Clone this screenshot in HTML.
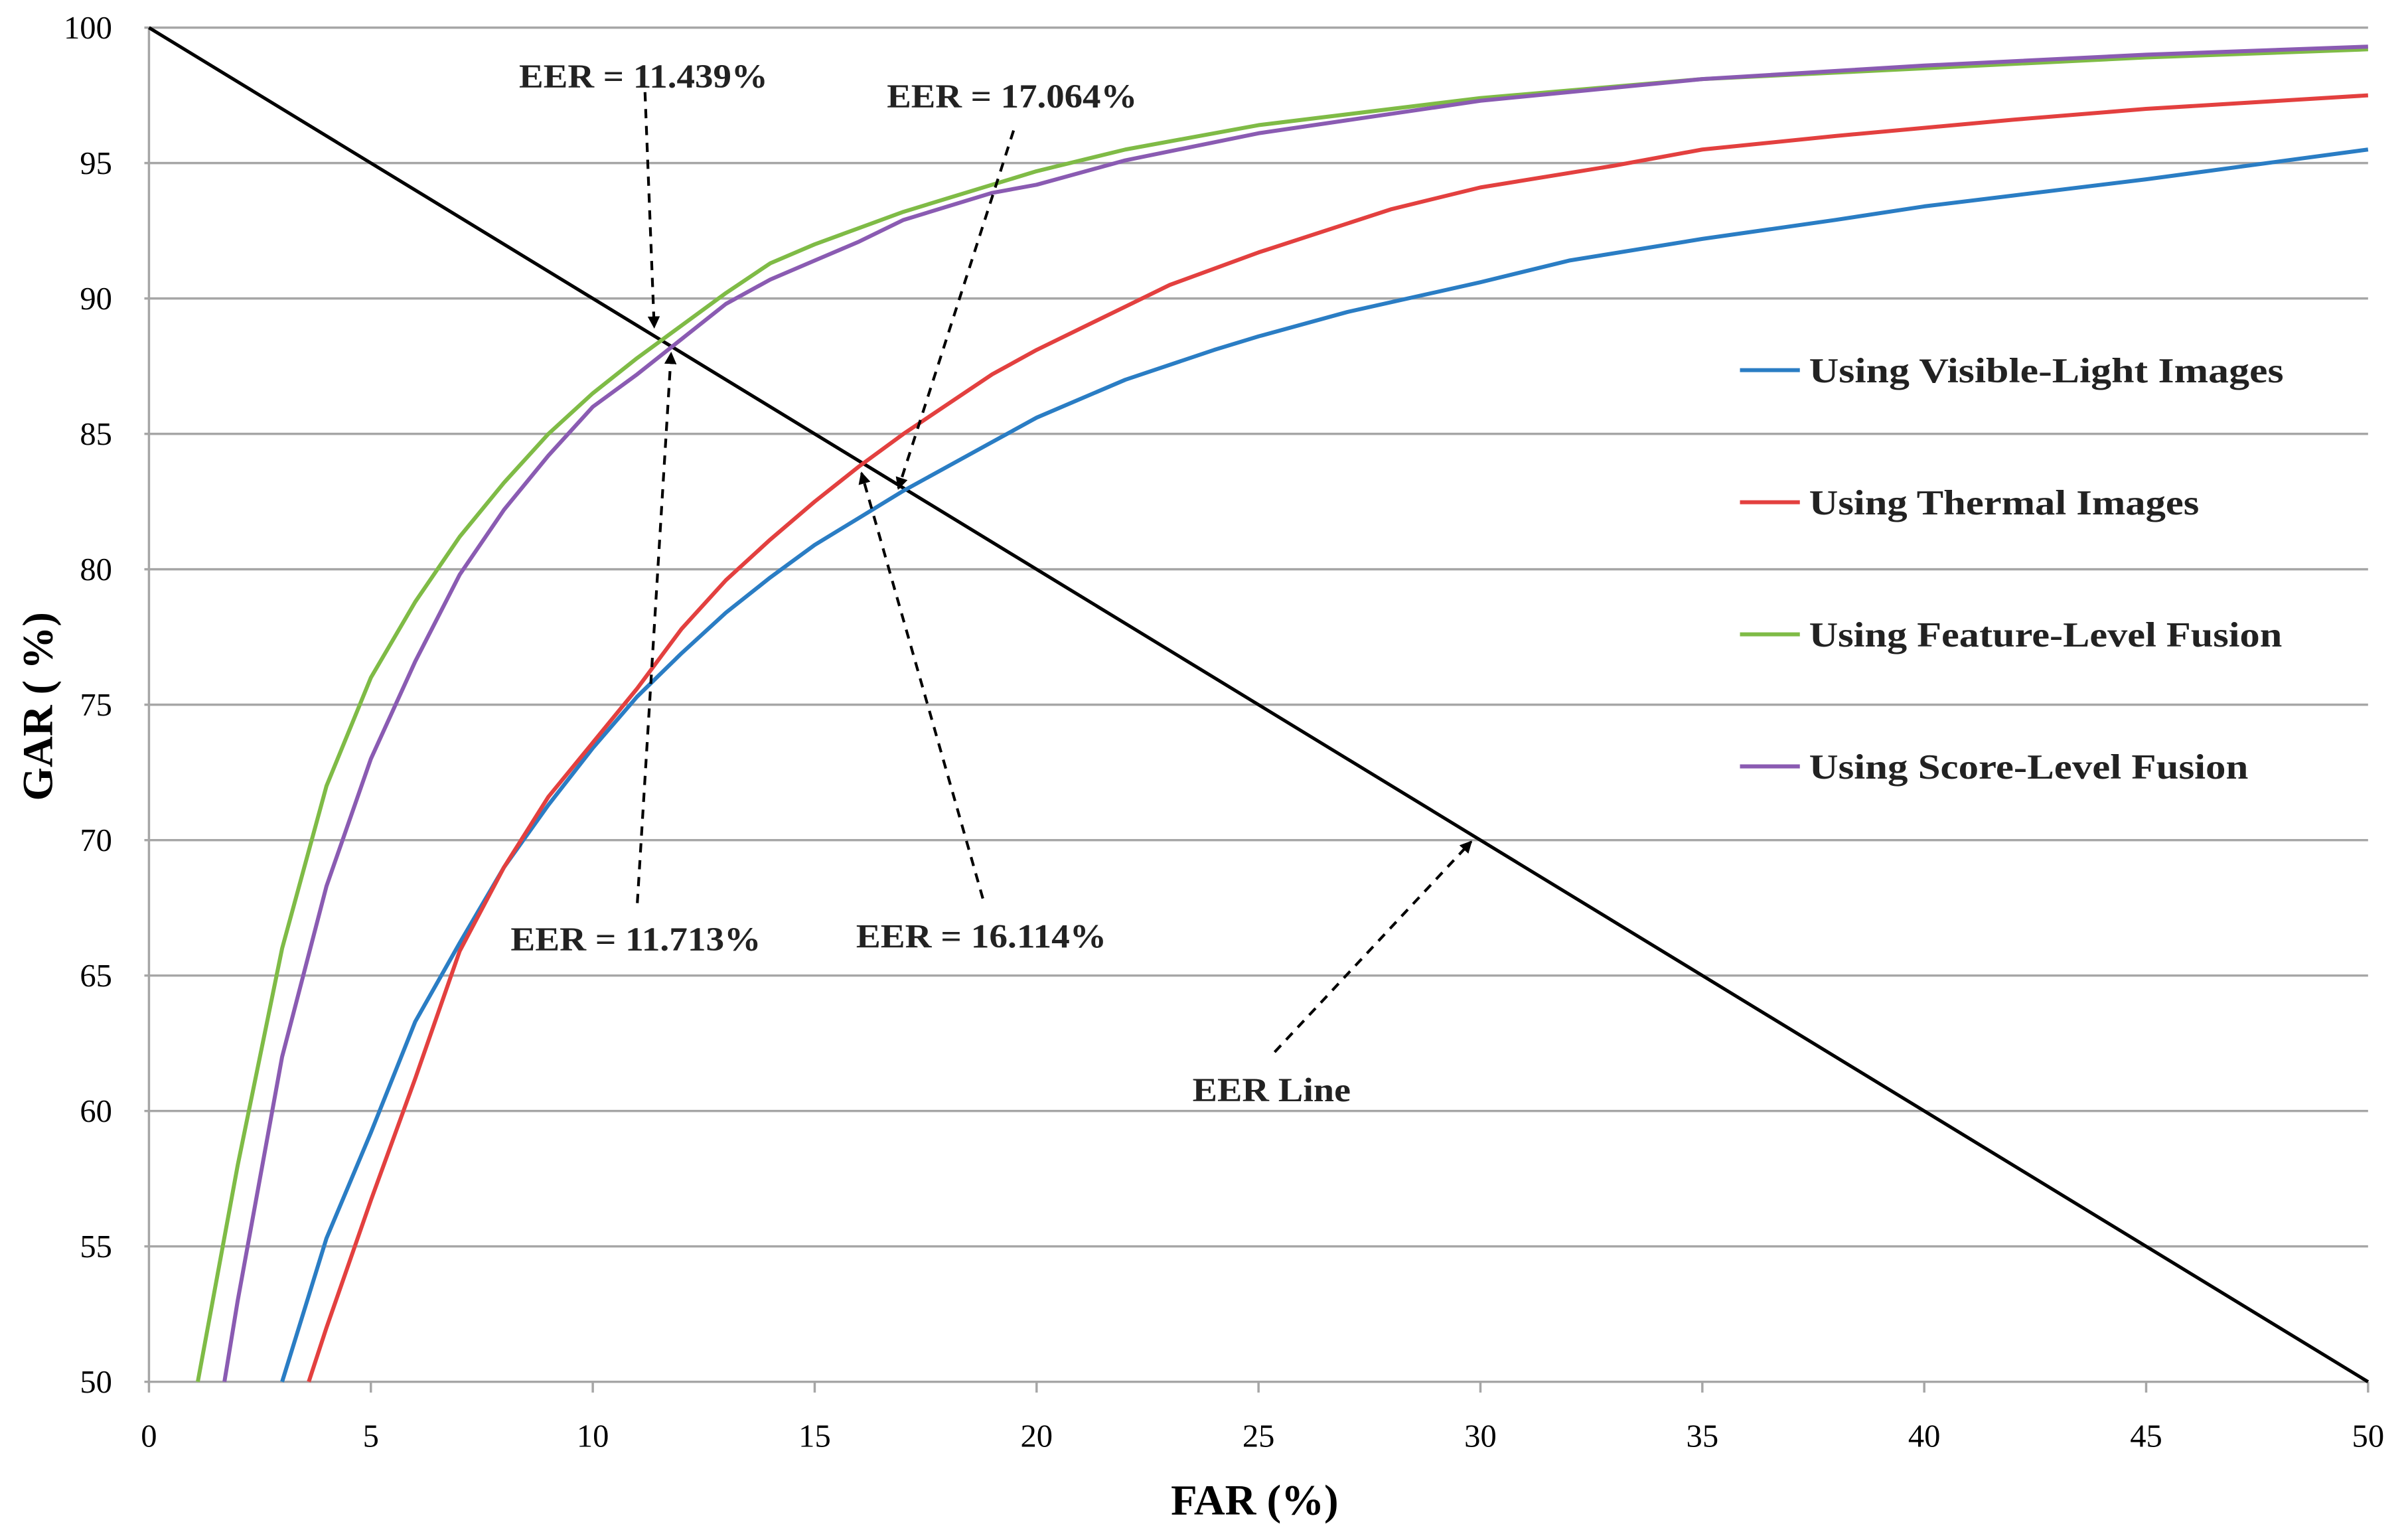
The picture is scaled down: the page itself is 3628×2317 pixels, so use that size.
<!DOCTYPE html>
<html><head><meta charset="utf-8"><style>
html,body{margin:0;padding:0;background:#fff;}
svg{display:block;}
text{font-family:"Liberation Serif",serif;}
</style></head><body>
<svg id="chart" width="3628" height="2317" viewBox="0 0 1568 1001.4" preserveAspectRatio="none" xmlns="http://www.w3.org/2000/svg">
<defs><marker id="ah" markerWidth="8" markerHeight="8" refX="7" refY="4" orient="auto" markerUnits="userSpaceOnUse"><path d="M0,0 L8,4 L0,8 z" fill="#000"/></marker></defs>
<g id="grid"></g><g id="series"></g><g id="ann"></g>
</svg>
<script>
const xTicks=[0,5,10,15,20,25,30,35,40,45,50];
const yTicks=[50,55,60,65,70,75,80,85,90,95,100];
const visX=[3,4,5,6,7,8,9,10,11,12,13,14,15,16,17,18,19,20,22,24,25,27,30,32,35,38,40,42,45,50];
const visY=[50,55.3,59.2,63.3,66.2,69,71.3,73.4,75.3,76.9,78.4,79.7,80.9,81.9,82.9,83.8,84.7,85.6,87,88.1,88.6,89.5,90.6,91.4,92.2,92.9,93.4,93.8,94.4,95.5];
const thX=[3.6,4,5,6,7,8,9,10,11,12,13,14,15,16,17,18,19,20,22,23,25,28,30,33,35,38,40,42,45,47,50];
const thY=[50,52,56.7,61.2,65.9,69,71.6,73.6,75.6,77.8,79.6,81.1,82.5,83.8,85,86.1,87.2,88.1,89.7,90.5,91.7,93.3,94.1,94.9,95.5,96,96.3,96.6,97,97.2,97.5];
const feX=[1.1,2,3,4,5,6,7,8,9,10,11,12,13,14,15,16,17,18,19,20,22,25,30,35,40,45,50];
const feY=[50,58,66,72,76,78.8,81.2,83.2,85,86.5,87.8,89,90.2,91.3,92,92.6,93.2,93.7,94.2,94.7,95.5,96.4,97.4,98.1,98.5,98.9,99.2];
const scX=[1.7,2,3,4,5,6,7,8,9,10,11,12,13,14,15,16,17,18,19,20,22,25,30,35,40,45,50];
const scY=[50,53,62,68.3,73,76.6,79.8,82.2,84.2,86,87.2,88.5,89.8,90.7,91.4,92.1,92.9,93.4,93.9,94.2,95.1,96.1,97.3,98.1,98.6,99,99.3];
const eerX=[0,50];
const eerY=[100,50];
const seriesNames=["Using Visible-Light Images","Using Thermal Images","Using Feature-Level Fusion","Using Score-Level Fusion"];
const legendLens=[309,254,308,286];

const X0=97,X1=1542,Y0=899.7,Y1=18;
const sx=v=>X0+(v-0)/(50-0)*(X1-X0);
const sy=v=>Y0-(v-50)/(100-50)*(Y0-Y1);
const NS="http://www.w3.org/2000/svg";
function mk(tag,attrs,parent){const e=document.createElementNS(NS,tag);for(const k in attrs)e.setAttribute(k,attrs[k]);parent.appendChild(e);return e;}
const grid=document.getElementById('grid'),ser=document.getElementById('series'),ann=document.getElementById('ann');
yTicks.forEach(v=>{
  const l=mk('line',{x1:X0-3,x2:X1,y1:sy(v),y2:sy(v),stroke:'#a6a6a6','stroke-width':1.5},grid);
  
  
  const t=mk('text',{x:73,y:sy(v)+7,'text-anchor':'end','font-size':21},grid);t.textContent=v;
  
  
});
const ya=mk('line',{x1:X0,x2:X0,y1:Y1,y2:Y0,stroke:'#a6a6a6','stroke-width':1.5},grid);


xTicks.forEach(v=>{
  const l=mk('line',{x1:sx(v),x2:sx(v),y1:Y0,y2:Y0+7,stroke:'#a6a6a6','stroke-width':1.5},grid);
  
  
  const t=mk('text',{x:sx(v),y:942,'text-anchor':'middle','font-size':21},grid);t.textContent=v;
  
  
});
const xt=mk('text',{x:817,y:986,'text-anchor':'middle','font-size':28,'font-weight':'bold'},grid);xt.textContent='FAR (%)';


const yt=mk('text',{x:0,y:0,'text-anchor':'middle','font-size':28,'font-weight':'bold',transform:'translate(34,460) rotate(-90)'},grid);yt.textContent='GAR ( %)';



function clipPts(xs,ys){return xs.map((x,i)=>sx(x).toFixed(2)+','+sy(ys[i]).toFixed(2)).join(' ');}
const eer=mk('polyline',{points:clipPts(eerX,eerY),fill:'none',stroke:'#000','stroke-width':2.2},ser);


const defs=[[visX,visY,'#2a7dc4','visible-light-line'],[thX,thY,'#e3403f','thermal-line'],[feX,feY,'#7fbb46','feature-fusion-line'],[scX,scY,'#8a5bb2','score-fusion-line']];
defs.forEach((d,i)=>{
  const p=mk('polyline',{points:clipPts(d[0],d[1]),fill:'none',stroke:d[2],'stroke-width':2.6,'stroke-linejoin':'round'},ser);
  
  
  const ly=241+86*i;
  const g=mk('g',{},ser);
  
  
  mk('line',{x1:1133,x2:1172,y1:ly,y2:ly,stroke:d[2],'stroke-width':2.6},g);
  const t=mk('text',{x:1178,y:ly+8,'font-size':23,'font-weight':'bold',fill:'#222',textLength:legendLens[i],lengthAdjust:'spacingAndGlyphs'},g);t.textContent=seriesNames[i];
});
const anns=[["EER = 11.439%",419,57,420,60,426,213,162],["EER = 17.064%",659,70,660,85,585,318,163],["EER = 11.713%",414,619,415,588,437,230,163],["EER = 16.114%",639,617,640,585,561,308,163],["EER Line",828,717,830,685,958,548,103]];
anns.forEach((a,i)=>{
  const t=mk('text',{x:a[1],y:a[2],'text-anchor':'middle','font-size':22,'font-weight':'bold',fill:'#222',textLength:a[7],lengthAdjust:'spacingAndGlyphs'},ann);t.textContent=a[0];
  
  
  const l=mk('line',{x1:a[3],y1:a[4],x2:a[5],y2:a[6],stroke:'#000','stroke-width':1.8,'stroke-dasharray':'6,5','marker-end':'url(#ah)'},ann);
  
  
});
</script>
</body></html>
